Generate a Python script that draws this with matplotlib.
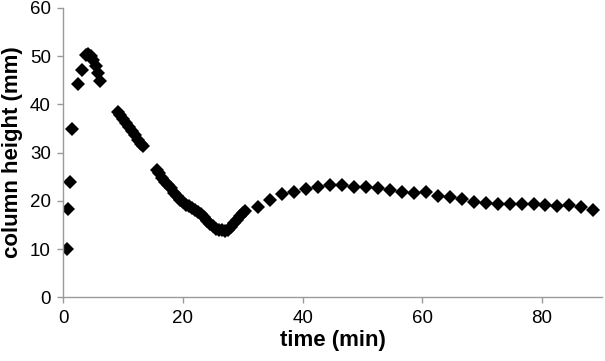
import matplotlib
matplotlib.use("Agg")
import matplotlib.pyplot as plt

# column height vs time
time_min = [
    0.57, 0.83, 1.12, 1.4, 2.5, 3.2,
    3.8, 4.2, 4.6, 5.0, 5.4, 5.8, 6.2,
    9.1, 9.5, 10.0, 10.5, 11.0, 11.5, 12.0, 12.5, 13.0, 13.3,
    15.6, 16.0, 16.5, 17.0, 17.5, 18.0, 18.5, 19.0, 19.5, 20.0,
    20.5, 21.0, 21.5, 22.0, 22.5, 23.0, 23.5, 24.0, 24.5, 25.0,
    25.5, 26.0, 26.5, 27.0, 27.5, 28.0, 28.5, 29.0, 29.5, 30.0, 30.3,
    32.6, 34.5, 36.5, 38.5, 40.6, 42.6, 44.6, 46.6, 48.6, 50.6,
    52.6, 54.6, 56.6, 58.6, 60.6, 62.6, 64.6, 66.6, 68.6, 70.6,
    72.6, 74.6, 76.6, 78.6, 80.6, 82.6, 84.6, 86.6, 88.6,
]
height_mm = [
    10.0, 18.4, 24.0, 34.9, 44.2, 47.2,
    50.3, 50.4, 50.0, 49.2, 48.0, 46.5, 44.8,
    38.5, 37.8, 37.0, 36.1, 35.3, 34.4, 33.6, 32.6, 31.8, 31.3,
    26.4, 25.7, 24.8, 24.0, 23.3, 22.6, 21.7, 20.9, 20.2, 19.7,
    19.2, 18.9, 18.6, 18.2, 17.7, 17.3, 16.6, 15.9, 15.3, 14.7,
    14.2, 14.0, 13.9, 13.8, 13.9, 14.6, 15.4, 16.1, 16.9, 17.5, 17.9,
    18.8, 20.2, 21.4, 21.9, 22.4, 22.9, 23.3, 23.3, 22.9, 22.9,
    22.6, 22.3, 21.8, 21.6, 21.8, 21.1, 20.7, 20.3, 19.8, 19.5,
    19.3, 19.4, 19.4, 19.4, 19.1, 18.9, 19.1, 18.7, 18.1,
]
x_ticks = [0, 20, 40, 60, 80]
y_ticks = [0, 10, 20, 30, 40, 50, 60]

plt.rcParams["font.family"] = ["Liberation Sans", "DejaVu Sans"]

fig = plt.figure(figsize=(6.05, 3.61), dpi=100)
ax = fig.add_axes([0.1046, 0.1765, 0.89, 0.8015])

ax.plot(time_min, height_mm, linestyle="none", marker="D", markersize=6.8,
        color="black", markeredgewidth=0)

ax.set_xlim(0, 90)
ax.set_ylim(0, 60)
ax.set_xticks(x_ticks)
ax.set_yticks(y_ticks)

for side in ["top", "right"]:
    ax.spines[side].set_visible(False)
for side in ["left", "bottom"]:
    ax.spines[side].set_color("#9a9a9a")
    ax.spines[side].set_linewidth(1.0)
ax.tick_params(axis="both", direction="out", length=4, width=1.0,
               color="#9a9a9a", labelsize=13.5, pad=5)

ax.set_xlabel("time (min)", fontsize=16, fontweight="bold", labelpad=2)
ax.set_ylabel("column height (mm)", fontsize=16, fontweight="bold", labelpad=5)

fig.savefig("out.png", dpi=100)
